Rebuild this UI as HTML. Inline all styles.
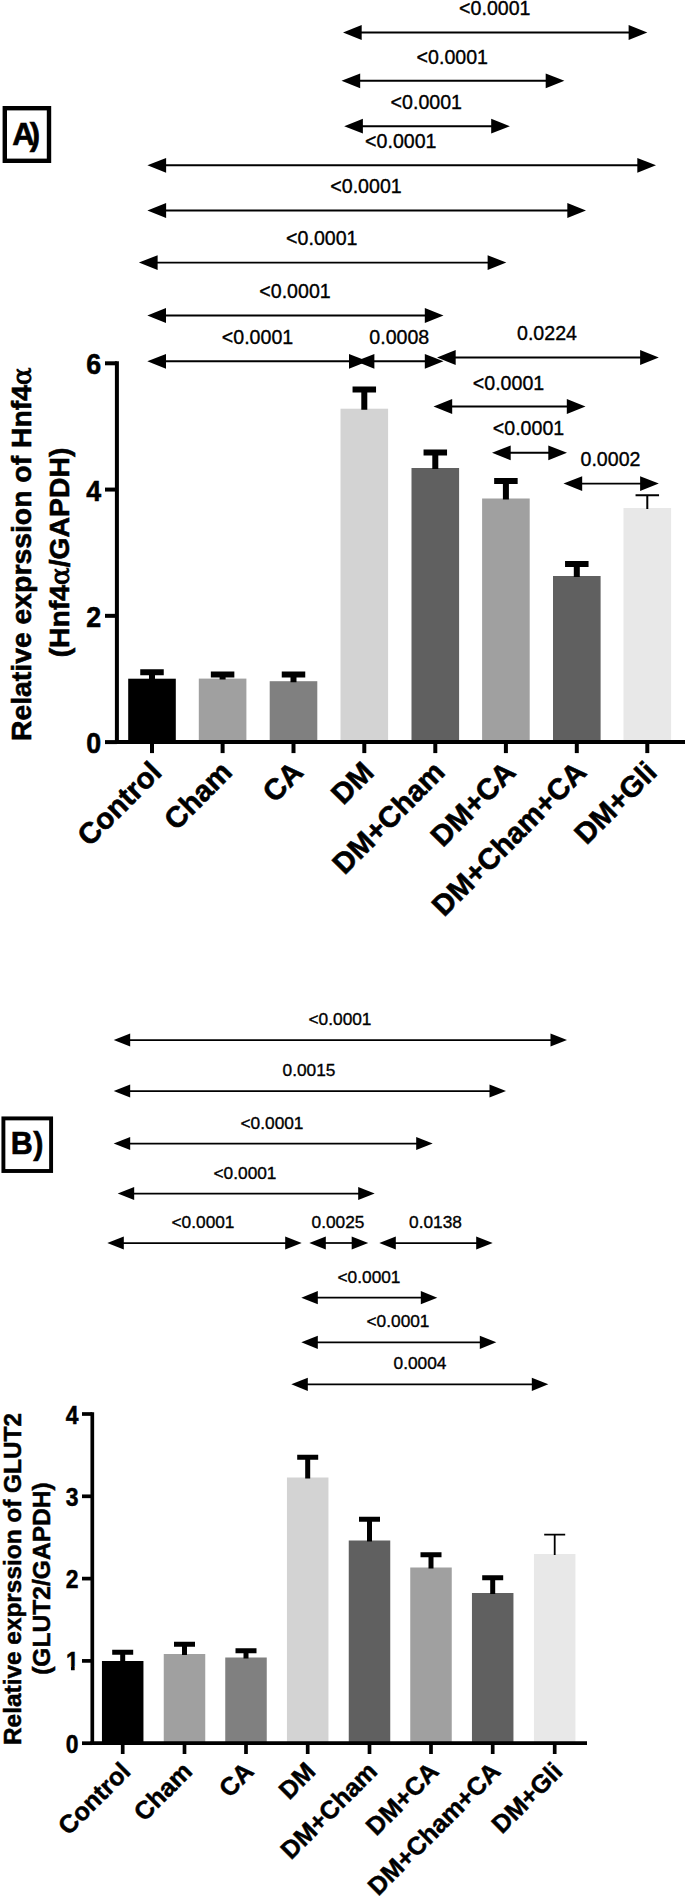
<!DOCTYPE html>
<html lang="en"><head><meta charset="utf-8"><title>Figure</title>
<style>html,body{margin:0;padding:0;background:#fff}svg{display:block}</style>
</head><body>
<svg width="685" height="1896" viewBox="0 0 685 1896">
<rect width="685" height="1896" fill="#fff"/>
<line x1="359.7" y1="32.5" x2="630.6" y2="32.5" stroke="#000" stroke-width="1.9"/><polygon points="343,32.5 361.7,25.1 361.7,39.9" fill="#000"/><polygon points="647.3,32.5 628.5999999999999,25.1 628.5999999999999,39.9" fill="#000"/>
<text x="494.8" y="15" font-size="19.6" text-anchor="middle" stroke="#000" stroke-width="0.35" font-family="Liberation Sans, Arial, sans-serif">&lt;0.0001</text>
<line x1="358.2" y1="80.8" x2="547.7" y2="80.8" stroke="#000" stroke-width="1.9"/><polygon points="341.5,80.8 360.2,73.39999999999999 360.2,88.2" fill="#000"/><polygon points="564.4,80.8 545.6999999999999,73.39999999999999 545.6999999999999,88.2" fill="#000"/>
<text x="452.3" y="64" font-size="19.6" text-anchor="middle" stroke="#000" stroke-width="0.35" font-family="Liberation Sans, Arial, sans-serif">&lt;0.0001</text>
<line x1="360.9" y1="126.2" x2="493.2" y2="126.2" stroke="#000" stroke-width="1.9"/><polygon points="344.2,126.2 362.9,118.8 362.9,133.6" fill="#000"/><polygon points="509.9,126.2 491.2,118.8 491.2,133.6" fill="#000"/>
<text x="426.3" y="108.7" font-size="19.6" text-anchor="middle" stroke="#000" stroke-width="0.35" font-family="Liberation Sans, Arial, sans-serif">&lt;0.0001</text>
<line x1="164.1" y1="165.3" x2="639.3" y2="165.3" stroke="#000" stroke-width="1.9"/><polygon points="147.4,165.3 166.1,157.9 166.1,172.70000000000002" fill="#000"/><polygon points="656,165.3 637.3,157.9 637.3,172.70000000000002" fill="#000"/>
<text x="400.8" y="148.3" font-size="19.6" text-anchor="middle" stroke="#000" stroke-width="0.35" font-family="Liberation Sans, Arial, sans-serif">&lt;0.0001</text>
<line x1="164.1" y1="210.5" x2="569.3" y2="210.5" stroke="#000" stroke-width="1.9"/><polygon points="147.4,210.5 166.1,203.1 166.1,217.9" fill="#000"/><polygon points="586,210.5 567.3,203.1 567.3,217.9" fill="#000"/>
<text x="366" y="193.1" font-size="19.6" text-anchor="middle" stroke="#000" stroke-width="0.35" font-family="Liberation Sans, Arial, sans-serif">&lt;0.0001</text>
<line x1="155.6" y1="262.6" x2="489.6" y2="262.6" stroke="#000" stroke-width="1.9"/><polygon points="138.9,262.6 157.6,255.20000000000002 157.6,270.0" fill="#000"/><polygon points="506.3,262.6 487.6,255.20000000000002 487.6,270.0" fill="#000"/>
<text x="321.8" y="245.3" font-size="19.6" text-anchor="middle" stroke="#000" stroke-width="0.35" font-family="Liberation Sans, Arial, sans-serif">&lt;0.0001</text>
<line x1="164.0" y1="315.5" x2="426.8" y2="315.5" stroke="#000" stroke-width="1.9"/><polygon points="147.3,315.5 166.0,308.1 166.0,322.9" fill="#000"/><polygon points="443.5,315.5 424.8,308.1 424.8,322.9" fill="#000"/>
<text x="295" y="297.8" font-size="19.6" text-anchor="middle" stroke="#000" stroke-width="0.35" font-family="Liberation Sans, Arial, sans-serif">&lt;0.0001</text>
<line x1="164.0" y1="361.3" x2="351.0" y2="361.3" stroke="#000" stroke-width="1.9"/><polygon points="147.3,361.3 166.0,353.90000000000003 166.0,368.7" fill="#000"/><polygon points="367.7,361.3 349.0,353.90000000000003 349.0,368.7" fill="#000"/>
<text x="257.5" y="344.3" font-size="19.6" text-anchor="middle" stroke="#000" stroke-width="0.35" font-family="Liberation Sans, Arial, sans-serif">&lt;0.0001</text>
<line x1="372.4" y1="361.3" x2="426.8" y2="361.3" stroke="#000" stroke-width="1.9"/><polygon points="355.7,361.3 374.4,353.90000000000003 374.4,368.7" fill="#000"/><polygon points="443.5,361.3 424.8,353.90000000000003 424.8,368.7" fill="#000"/>
<text x="399.3" y="344.3" font-size="19.6" text-anchor="middle" stroke="#000" stroke-width="0.35" font-family="Liberation Sans, Arial, sans-serif">0.0008</text>
<line x1="453.7" y1="357.5" x2="642.1" y2="357.5" stroke="#000" stroke-width="1.9"/><polygon points="437,357.5 455.7,350.1 455.7,364.9" fill="#000"/><polygon points="658.8,357.5 640.0999999999999,350.1 640.0999999999999,364.9" fill="#000"/>
<text x="547" y="339.5" font-size="19.6" text-anchor="middle" stroke="#000" stroke-width="0.35" font-family="Liberation Sans, Arial, sans-serif">0.0224</text>
<line x1="450.2" y1="406.5" x2="568.8" y2="406.5" stroke="#000" stroke-width="1.9"/><polygon points="433.5,406.5 452.2,399.1 452.2,413.9" fill="#000"/><polygon points="585.5,406.5 566.8,399.1 566.8,413.9" fill="#000"/>
<text x="508.5" y="390" font-size="19.6" text-anchor="middle" stroke="#000" stroke-width="0.35" font-family="Liberation Sans, Arial, sans-serif">&lt;0.0001</text>
<line x1="508.7" y1="452.8" x2="550.3" y2="452.8" stroke="#000" stroke-width="1.9"/><polygon points="492,452.8 510.7,445.40000000000003 510.7,460.2" fill="#000"/><polygon points="567,452.8 548.3,445.40000000000003 548.3,460.2" fill="#000"/>
<text x="528.5" y="435.3" font-size="19.6" text-anchor="middle" stroke="#000" stroke-width="0.35" font-family="Liberation Sans, Arial, sans-serif">&lt;0.0001</text>
<line x1="580.2" y1="483.6" x2="642.1" y2="483.6" stroke="#000" stroke-width="1.9"/><polygon points="563.5,483.6 582.2,476.20000000000005 582.2,491.0" fill="#000"/><polygon points="658.8,483.6 640.0999999999999,476.20000000000005 640.0999999999999,491.0" fill="#000"/>
<text x="610.5" y="466.3" font-size="19.6" text-anchor="middle" stroke="#000" stroke-width="0.35" font-family="Liberation Sans, Arial, sans-serif">0.0002</text>
<rect x="4.8" y="108.2" width="44.2" height="52.60000000000001" fill="#fff" stroke="#000" stroke-width="4.4"/>
<text x="12.3" y="144.9" font-size="31" font-weight="bold" stroke="#000" stroke-width="0.6" font-family="Liberation Sans, Arial, sans-serif">A<tspan dx="-5">)</tspan></text>
<rect x="128.2" y="678.7" width="47.60000000000002" height="63.39999999999998" fill="#000000"/>
<path d="M140.25 672.2H163.75M152 672.2V679.7" stroke="#000" stroke-width="6" fill="none"/>
<rect x="198.79999999999998" y="678.6" width="47.60000000000002" height="63.5" fill="#a0a0a0"/>
<path d="M210.85 674.5H234.35M222.6 674.5V679.6" stroke="#000" stroke-width="6" fill="none"/>
<rect x="269.7" y="681.2" width="47.60000000000002" height="60.89999999999998" fill="#808080"/>
<path d="M281.75 674.5H305.25M293.5 674.5V682.2" stroke="#000" stroke-width="6" fill="none"/>
<rect x="340.5" y="408.7" width="47.60000000000002" height="333.40000000000003" fill="#d3d3d3"/>
<path d="M352.55 389.4H376.05M364.3 389.4V409.7" stroke="#000" stroke-width="6" fill="none"/>
<rect x="411.5" y="468" width="47.60000000000002" height="274.1" fill="#606060"/>
<path d="M423.55 452.5H447.05M435.3 452.5V469" stroke="#000" stroke-width="6" fill="none"/>
<rect x="482.09999999999997" y="498.5" width="47.599999999999966" height="243.60000000000002" fill="#a0a0a0"/>
<path d="M494.15 481H517.65M505.9 481V499.5" stroke="#000" stroke-width="6" fill="none"/>
<rect x="553.0" y="576" width="47.59999999999991" height="166.10000000000002" fill="#606060"/>
<path d="M565.05 564H588.55M576.8 564V577" stroke="#000" stroke-width="6" fill="none"/>
<rect x="623.5" y="508" width="47.59999999999991" height="234.10000000000002" fill="#e8e8e8"/>
<path d="M635.55 495.2H659.05M647.3 495.2V509" stroke="#000" stroke-width="2" fill="none"/>
<path d="M116.9 361.3V744.1" stroke="#000" stroke-width="4.0" fill="none"/>
<path d="M114.9 742.1H685" stroke="#000" stroke-width="4.0" fill="none"/>
<path d="M105.0 742.1H116.9" stroke="#000" stroke-width="4.0" fill="none"/>
<text transform="translate(101.2,753.2) scale(0.88,1)" font-size="30.4" font-weight="bold" text-anchor="end" stroke="#000" stroke-width="0.6" font-family="Liberation Sans, Arial, sans-serif">0</text>
<path d="M105.0 615.8333333333334H116.9" stroke="#000" stroke-width="4.0" fill="none"/>
<text transform="translate(101.2,626.9333333333334) scale(0.88,1)" font-size="30.4" font-weight="bold" text-anchor="end" stroke="#000" stroke-width="0.6" font-family="Liberation Sans, Arial, sans-serif">2</text>
<path d="M105.0 489.5666666666667H116.9" stroke="#000" stroke-width="4.0" fill="none"/>
<text transform="translate(101.2,500.66666666666674) scale(0.88,1)" font-size="30.4" font-weight="bold" text-anchor="end" stroke="#000" stroke-width="0.6" font-family="Liberation Sans, Arial, sans-serif">4</text>
<path d="M105.0 363.3H116.9" stroke="#000" stroke-width="4.0" fill="none"/>
<text transform="translate(101.2,374.40000000000003) scale(0.88,1)" font-size="30.4" font-weight="bold" text-anchor="end" stroke="#000" stroke-width="0.6" font-family="Liberation Sans, Arial, sans-serif">6</text>
<path d="M152 742.1V753.1" stroke="#000" stroke-width="4.0" fill="none"/>
<path d="M222.6 742.1V753.1" stroke="#000" stroke-width="4.0" fill="none"/>
<path d="M293.5 742.1V753.1" stroke="#000" stroke-width="4.0" fill="none"/>
<path d="M364.3 742.1V753.1" stroke="#000" stroke-width="4.0" fill="none"/>
<path d="M435.3 742.1V753.1" stroke="#000" stroke-width="4.0" fill="none"/>
<path d="M505.9 742.1V753.1" stroke="#000" stroke-width="4.0" fill="none"/>
<path d="M576.8 742.1V753.1" stroke="#000" stroke-width="4.0" fill="none"/>
<path d="M647.3 742.1V753.1" stroke="#000" stroke-width="4.0" fill="none"/>
<text transform="translate(163.2,773.9) rotate(-45)" font-size="29.3" font-weight="bold" text-anchor="end" stroke="#000" stroke-width="0.6" font-family="Liberation Sans, Arial, sans-serif">Control</text>
<text transform="translate(233.79999999999998,773.9) rotate(-45)" font-size="29.3" font-weight="bold" text-anchor="end" stroke="#000" stroke-width="0.6" font-family="Liberation Sans, Arial, sans-serif">Cham</text>
<text transform="translate(304.7,773.9) rotate(-45)" font-size="29.3" font-weight="bold" text-anchor="end" stroke="#000" stroke-width="0.6" font-family="Liberation Sans, Arial, sans-serif">CA</text>
<text transform="translate(375.5,773.9) rotate(-45)" font-size="29.3" font-weight="bold" text-anchor="end" stroke="#000" stroke-width="0.6" font-family="Liberation Sans, Arial, sans-serif">DM</text>
<text transform="translate(446.5,773.9) rotate(-45)" font-size="29.3" font-weight="bold" text-anchor="end" stroke="#000" stroke-width="0.6" font-family="Liberation Sans, Arial, sans-serif">DM+Cham</text>
<text transform="translate(517.1,773.9) rotate(-45)" font-size="29.3" font-weight="bold" text-anchor="end" stroke="#000" stroke-width="0.6" font-family="Liberation Sans, Arial, sans-serif">DM+CA</text>
<text transform="translate(588.0,773.9) rotate(-45)" font-size="29.3" font-weight="bold" text-anchor="end" stroke="#000" stroke-width="0.6" font-family="Liberation Sans, Arial, sans-serif">DM+Cham+CA</text>
<text transform="translate(658.5,773.9) rotate(-45)" font-size="29.3" font-weight="bold" text-anchor="end" stroke="#000" stroke-width="0.6" font-family="Liberation Sans, Arial, sans-serif">DM+Gli</text>
<text transform="translate(31,741) rotate(-90)" font-size="28.35" font-weight="bold" stroke="#000" stroke-width="0.6" font-family="Liberation Sans, Arial, sans-serif">Relative exprssion of Hnf4<tspan font-family="DejaVu Serif, Liberation Serif, serif" font-weight="normal" font-size="26" stroke-width="0.9">α</tspan></text>
<text transform="translate(68.6,552.5) rotate(-90)" font-size="28.35" font-weight="bold" text-anchor="middle" stroke="#000" stroke-width="0.6" font-family="Liberation Sans, Arial, sans-serif">(Hnf4<tspan font-family="DejaVu Serif, Liberation Serif, serif" font-weight="normal" font-size="26" stroke-width="0.9">α</tspan>/GAPDH)</text>
<line x1="128.2" y1="1040" x2="552.5" y2="1040" stroke="#000" stroke-width="1.75"/><polygon points="113.7,1040 130.2,1033.4 130.2,1046.6" fill="#000"/><polygon points="567,1040 550.5,1033.4 550.5,1046.6" fill="#000"/>
<text x="340" y="1025" font-size="17.3" text-anchor="middle" stroke="#000" stroke-width="0.35" font-family="Liberation Sans, Arial, sans-serif">&lt;0.0001</text>
<line x1="128.2" y1="1091" x2="491.5" y2="1091" stroke="#000" stroke-width="1.75"/><polygon points="113.7,1091 130.2,1084.4 130.2,1097.6" fill="#000"/><polygon points="506,1091 489.5,1084.4 489.5,1097.6" fill="#000"/>
<text x="309" y="1076" font-size="17.3" text-anchor="middle" stroke="#000" stroke-width="0.35" font-family="Liberation Sans, Arial, sans-serif">0.0015</text>
<line x1="128.2" y1="1143.5" x2="418.2" y2="1143.5" stroke="#000" stroke-width="1.75"/><polygon points="113.7,1143.5 130.2,1136.9 130.2,1150.1" fill="#000"/><polygon points="432.7,1143.5 416.2,1136.9 416.2,1150.1" fill="#000"/>
<text x="272" y="1128.5" font-size="17.3" text-anchor="middle" stroke="#000" stroke-width="0.35" font-family="Liberation Sans, Arial, sans-serif">&lt;0.0001</text>
<line x1="132.2" y1="1193.5" x2="360.2" y2="1193.5" stroke="#000" stroke-width="1.75"/><polygon points="117.7,1193.5 134.2,1186.9 134.2,1200.1" fill="#000"/><polygon points="374.7,1193.5 358.2,1186.9 358.2,1200.1" fill="#000"/>
<text x="245" y="1179" font-size="17.3" text-anchor="middle" stroke="#000" stroke-width="0.35" font-family="Liberation Sans, Arial, sans-serif">&lt;0.0001</text>
<line x1="121.8" y1="1243" x2="287.2" y2="1243" stroke="#000" stroke-width="1.75"/><polygon points="107.3,1243 123.8,1236.4 123.8,1249.6" fill="#000"/><polygon points="301.7,1243 285.2,1236.4 285.2,1249.6" fill="#000"/>
<text x="203" y="1228" font-size="17.3" text-anchor="middle" stroke="#000" stroke-width="0.35" font-family="Liberation Sans, Arial, sans-serif">&lt;0.0001</text>
<line x1="323.8" y1="1243" x2="353.7" y2="1243" stroke="#000" stroke-width="1.75"/><polygon points="309.3,1243 325.8,1236.4 325.8,1249.6" fill="#000"/><polygon points="368.2,1243 351.7,1236.4 351.7,1249.6" fill="#000"/>
<text x="338" y="1228" font-size="17.3" text-anchor="middle" stroke="#000" stroke-width="0.35" font-family="Liberation Sans, Arial, sans-serif">0.0025</text>
<line x1="393.8" y1="1243" x2="478.2" y2="1243" stroke="#000" stroke-width="1.75"/><polygon points="379.3,1243 395.8,1236.4 395.8,1249.6" fill="#000"/><polygon points="492.7,1243 476.2,1236.4 476.2,1249.6" fill="#000"/>
<text x="435.5" y="1228" font-size="17.3" text-anchor="middle" stroke="#000" stroke-width="0.35" font-family="Liberation Sans, Arial, sans-serif">0.0138</text>
<line x1="315.8" y1="1297.7" x2="422.8" y2="1297.7" stroke="#000" stroke-width="1.75"/><polygon points="301.3,1297.7 317.8,1291.1000000000001 317.8,1304.3" fill="#000"/><polygon points="437.3,1297.7 420.8,1291.1000000000001 420.8,1304.3" fill="#000"/>
<text x="369" y="1282.5" font-size="17.3" text-anchor="middle" stroke="#000" stroke-width="0.35" font-family="Liberation Sans, Arial, sans-serif">&lt;0.0001</text>
<line x1="315.8" y1="1342.3" x2="481.8" y2="1342.3" stroke="#000" stroke-width="1.75"/><polygon points="301.3,1342.3 317.8,1335.7 317.8,1348.8999999999999" fill="#000"/><polygon points="496.3,1342.3 479.8,1335.7 479.8,1348.8999999999999" fill="#000"/>
<text x="398" y="1327" font-size="17.3" text-anchor="middle" stroke="#000" stroke-width="0.35" font-family="Liberation Sans, Arial, sans-serif">&lt;0.0001</text>
<line x1="305.8" y1="1384.3" x2="533.8" y2="1384.3" stroke="#000" stroke-width="1.75"/><polygon points="291.3,1384.3 307.8,1377.7 307.8,1390.8999999999999" fill="#000"/><polygon points="548.3,1384.3 531.8,1377.7 531.8,1390.8999999999999" fill="#000"/>
<text x="420" y="1369.3" font-size="17.3" text-anchor="middle" stroke="#000" stroke-width="0.35" font-family="Liberation Sans, Arial, sans-serif">0.0004</text>
<rect x="3.4" y="1118.4" width="47.7" height="52.59999999999991" fill="#fff" stroke="#000" stroke-width="3.9"/>
<text x="10.7" y="1153.7" font-size="30.5" font-weight="bold" stroke="#000" stroke-width="0.6" font-family="Liberation Sans, Arial, sans-serif">B<tspan dx="0.4">)</tspan></text>
<rect x="101.95" y="1661" width="41.499999999999986" height="82.20000000000005" fill="#000000"/>
<path d="M112.2 1652.3H133.2M122.7 1652.3V1662" stroke="#000" stroke-width="5" fill="none"/>
<rect x="163.75" y="1654" width="41.5" height="89.20000000000005" fill="#a0a0a0"/>
<path d="M174.0 1644.3H195.0M184.5 1644.3V1655" stroke="#000" stroke-width="5" fill="none"/>
<rect x="225.25" y="1657.5" width="41.5" height="85.70000000000005" fill="#808080"/>
<path d="M235.5 1650.7H256.5M246 1650.7V1658.5" stroke="#000" stroke-width="5" fill="none"/>
<rect x="286.95" y="1477.5" width="41.5" height="265.70000000000005" fill="#d3d3d3"/>
<path d="M297.2 1457.2H318.2M307.7 1457.2V1478.5" stroke="#000" stroke-width="5" fill="none"/>
<rect x="348.75" y="1540.5" width="41.5" height="202.70000000000005" fill="#606060"/>
<path d="M359.0 1519.2H380.0M369.5 1519.2V1541.5" stroke="#000" stroke-width="5" fill="none"/>
<rect x="410.25" y="1567.5" width="41.5" height="175.70000000000005" fill="#a0a0a0"/>
<path d="M420.5 1554.7H441.5M431 1554.7V1568.5" stroke="#000" stroke-width="5" fill="none"/>
<rect x="471.95" y="1593" width="41.50000000000006" height="150.20000000000005" fill="#606060"/>
<path d="M482.2 1577.7H503.2M492.7 1577.7V1594" stroke="#000" stroke-width="5" fill="none"/>
<rect x="533.95" y="1554" width="41.5" height="189.20000000000005" fill="#e8e8e8"/>
<path d="M544.2 1534.7H565.2M554.7 1534.7V1555" stroke="#000" stroke-width="1.8" fill="none"/>
<path d="M92.3 1412.15V1745.05" stroke="#000" stroke-width="3.7" fill="none"/>
<path d="M90.45 1743.2H587" stroke="#000" stroke-width="3.7" fill="none"/>
<path d="M82 1743.2H92.3" stroke="#000" stroke-width="3.7" fill="none"/>
<text transform="translate(78.5,1752.7) scale(0.88,1)" font-size="26" font-weight="bold" text-anchor="end" stroke="#000" stroke-width="0.5" font-family="Liberation Sans, Arial, sans-serif">0</text>
<path d="M82 1660.9H92.3" stroke="#000" stroke-width="3.7" fill="none"/>
<clipPath id="nofoot"><rect x="-16.46" y="-26.00" width="18.46" height="22.20"/><rect x="-8.69" y="-3.90" width="4.17" height="5.30"/></clipPath>
<text transform="translate(78.6,1670.4) scale(0.88,1)" clip-path="url(#nofoot)" font-size="26" font-weight="bold" text-anchor="end" stroke="#000" stroke-width="0.5" font-family="Liberation Sans, Arial, sans-serif">1</text>
<path d="M82 1578.6H92.3" stroke="#000" stroke-width="3.7" fill="none"/>
<text transform="translate(78.5,1588.1) scale(0.88,1)" font-size="26" font-weight="bold" text-anchor="end" stroke="#000" stroke-width="0.5" font-family="Liberation Sans, Arial, sans-serif">2</text>
<path d="M82 1496.3H92.3" stroke="#000" stroke-width="3.7" fill="none"/>
<text transform="translate(78.5,1505.8) scale(0.88,1)" font-size="26" font-weight="bold" text-anchor="end" stroke="#000" stroke-width="0.5" font-family="Liberation Sans, Arial, sans-serif">3</text>
<path d="M82 1414.0H92.3" stroke="#000" stroke-width="3.7" fill="none"/>
<text transform="translate(78.5,1423.5) scale(0.88,1)" font-size="26" font-weight="bold" text-anchor="end" stroke="#000" stroke-width="0.5" font-family="Liberation Sans, Arial, sans-serif">4</text>
<path d="M122.7 1743.2V1754.0" stroke="#000" stroke-width="3.7" fill="none"/>
<path d="M184.5 1743.2V1754.0" stroke="#000" stroke-width="3.7" fill="none"/>
<path d="M246 1743.2V1754.0" stroke="#000" stroke-width="3.7" fill="none"/>
<path d="M307.7 1743.2V1754.0" stroke="#000" stroke-width="3.7" fill="none"/>
<path d="M369.5 1743.2V1754.0" stroke="#000" stroke-width="3.7" fill="none"/>
<path d="M431 1743.2V1754.0" stroke="#000" stroke-width="3.7" fill="none"/>
<path d="M492.7 1743.2V1754.0" stroke="#000" stroke-width="3.7" fill="none"/>
<path d="M554.7 1743.2V1754.0" stroke="#000" stroke-width="3.7" fill="none"/>
<text transform="translate(131.9,1773.0) rotate(-45)" font-size="25.2" font-weight="bold" text-anchor="end" stroke="#000" stroke-width="0.5" font-family="Liberation Sans, Arial, sans-serif">Control</text>
<text transform="translate(193.7,1773.0) rotate(-45)" font-size="25.2" font-weight="bold" text-anchor="end" stroke="#000" stroke-width="0.5" font-family="Liberation Sans, Arial, sans-serif">Cham</text>
<text transform="translate(255.2,1773.0) rotate(-45)" font-size="25.2" font-weight="bold" text-anchor="end" stroke="#000" stroke-width="0.5" font-family="Liberation Sans, Arial, sans-serif">CA</text>
<text transform="translate(316.9,1773.0) rotate(-45)" font-size="25.2" font-weight="bold" text-anchor="end" stroke="#000" stroke-width="0.5" font-family="Liberation Sans, Arial, sans-serif">DM</text>
<text transform="translate(378.7,1773.0) rotate(-45)" font-size="25.2" font-weight="bold" text-anchor="end" stroke="#000" stroke-width="0.5" font-family="Liberation Sans, Arial, sans-serif">DM+Cham</text>
<text transform="translate(440.2,1773.0) rotate(-45)" font-size="25.2" font-weight="bold" text-anchor="end" stroke="#000" stroke-width="0.5" font-family="Liberation Sans, Arial, sans-serif">DM+CA</text>
<text transform="translate(501.9,1773.0) rotate(-45)" font-size="25.2" font-weight="bold" text-anchor="end" stroke="#000" stroke-width="0.5" font-family="Liberation Sans, Arial, sans-serif">DM+Cham+CA</text>
<text transform="translate(563.9000000000001,1773.0) rotate(-45)" font-size="25.2" font-weight="bold" text-anchor="end" stroke="#000" stroke-width="0.5" font-family="Liberation Sans, Arial, sans-serif">DM+Gli</text>
<text transform="translate(21,1745) rotate(-90)" font-size="24.4" font-weight="bold" stroke="#000" stroke-width="0.5" font-family="Liberation Sans, Arial, sans-serif">Relative exprssion of GLUT2</text>
<text transform="translate(50,1578.5) rotate(-90)" font-size="24.6" font-weight="bold" text-anchor="middle" stroke="#000" stroke-width="0.5" font-family="Liberation Sans, Arial, sans-serif">(GLUT2/GAPDH)</text>
</svg>
</body></html>
